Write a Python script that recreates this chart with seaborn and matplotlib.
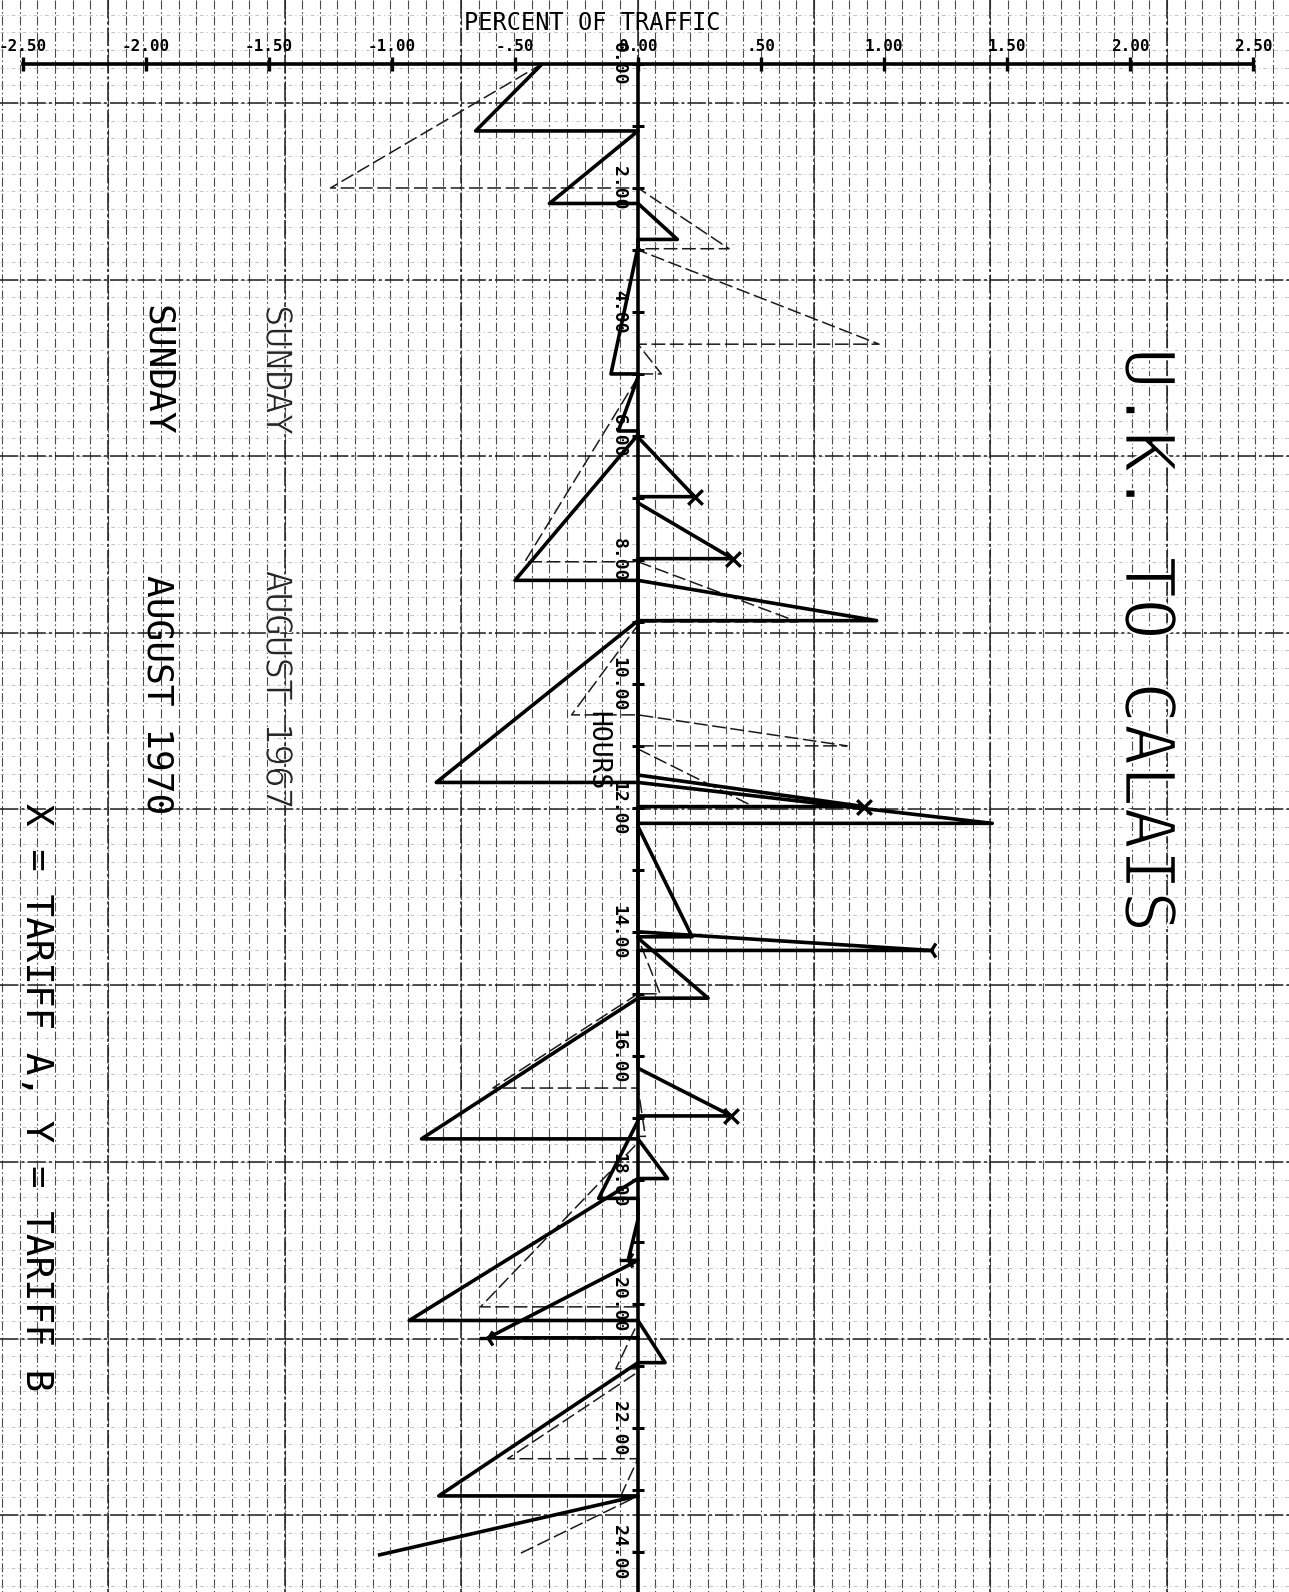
import numpy as np
import pandas as pd
import matplotlib
matplotlib.use("Agg")
import matplotlib.pyplot as plt
import matplotlib.patheffects as pe
import seaborn as sns

# ---------------- data ----------------
# 1970, main sailings (heavy solid trace): start hour on axis, end hour, percent
a_start = [-1.56, 1.08, 2.25, 2.95, 5.05, 5.98, 8.33, 8.98, 11.59, 12.30, 14.10,
           15.07, 17.34, 17.98, 20.27, 20.95, 23.10]
a_end = [1.08, 2.25, 2.83, 5.00, 5.92, 8.33, 8.98, 11.59, 12.25, 14.08, 15.07,
         17.34, 17.98, 20.27, 20.95, 23.10, 24.05]
a_val = [-0.66, -0.36, 0.16, -0.11, -0.08, -0.50, 0.97, -0.82, 1.44, 0.22, 0.285,
         -0.88, 0.12, -0.93, 0.11, -0.81, -1.05]

# 1970, extra sailings (solid, with tariff markers)
b_start = [6.02, 7.08, 11.47, 14.00, 16.20, 17.05, 18.64, 19.30]
b_end = [6.98, 7.98, 11.98, 14.30, 16.97, 18.30, 19.30, 20.55]
b_val = [0.23, 0.385, 0.92, 1.19, 0.38, -0.16, -0.04, -0.61]
b_tariff = ["A", "A", "A", "B", "A", "", "B", "B"]

# 1967 sailings (thin dashed trace)
c_start = [-0.91, 2.00, 3.00, 4.52, 5.05, 8.03, 9.05, 10.50, 11.05, 14.10, 15.00,
           16.52, 17.40, 20.30, 21.10, 22.50, 23.10]
c_end = [2.00, 2.98, 4.52, 5.00, 8.03, 9.00, 10.50, 11.00, 11.98, 15.00, 16.52,
         17.30, 20.05, 21.05, 22.50, 23.10, 24.05]
c_val = [-1.25, 0.37, 0.98, 0.095, -0.46, 0.65, -0.27, 0.85, 0.47, 0.09, -0.59,
         0.03, -0.64, -0.09, -0.53, -0.07, -0.49]

x_ticks = [-2.5, -2.0, -1.5, -1.0, -0.5, 0.0, 0.5, 1.0, 1.5, 2.0, 2.5]
x_labels = ["-2.50", "-2.00", "-1.50", "-1.00", "-.50", "0.00", ".50",
            "1.00", "1.50", "2.00", "2.50"]
hour_ticks = list(range(0, 25, 2))
hour_labels = [f"{h}.00" for h in hour_ticks]
hour_minor = list(range(0, 25))


def trace(start, end, val, final_return=True):
    xs, ys = [], []
    for s, e, v in zip(start, end, val):
        xs += [0.0, v, 0.0]
        ys += [s, e, e]
    if not final_return:
        xs, ys = xs[:-1], ys[:-1]
    return pd.DataFrame({"pct": xs, "hour": ys})


df_a = trace(a_start, a_end, a_val, final_return=False)
df_b = trace(b_start, b_end, b_val)
df_c = trace(c_start, c_end, c_val, final_return=False)
df_marks = pd.DataFrame({"pct": b_val, "hour": b_end, "tariff": b_tariff})

# ---------------- figure ----------------
W, H = 1289, 1592
fig = plt.figure(figsize=(W / 100, H / 100), dpi=100)
fig.patch.set_facecolor("white")

# plotter paper grid (background, pixel coordinates)
bg = fig.add_axes([0, 0, 1, 1], zorder=0)
bg.set_xlim(0, W)
bg.set_ylim(H, 0)
bg.axis("off")
step = 17.65
vx = np.arange(108 - 6 * step, W, step)
hy = np.arange(103 - 5 * step, H, step)
vmaj = [x for i, x in enumerate(vx) if (i - 6) % 10 == 0]
hmaj = [y for i, y in enumerate(hy) if (i - 5) % 10 == 0]
bg.vlines(vx, 0, H, colors="#4a4a4a", linewidth=0.8, linestyles=(0, (8, 2.5, 1.5, 2.5)))
bg.hlines(hy, 0, W, colors="#b4b4b4", linewidth=0.55, linestyles=(0, (5, 4, 1.5, 4)))
bg.vlines(vmaj, 0, H, colors="#1e1e1e", linewidth=1.1, linestyles=(0, (12, 2, 2, 2)))
bg.hlines(hmaj, 0, W, colors="#1e1e1e", linewidth=1.1, linestyles=(0, (12, 2, 2, 2)))

# main chart axes
left = 23 / W
right = 1253 / W
top = 1 - 64 / H
ax = fig.add_axes([left, 0.0, right - left, top], zorder=1)
ax.patch.set_alpha(0)
ax.set_xlim(-2.5, 2.5)
ax.set_ylim(24.65, 0)

sns.lineplot(data=df_c, x="pct", y="hour", sort=False, estimator=None, ax=ax,
             color="#1a1a1a", linewidth=1.1, linestyle=(0, (9, 3)))
sns.lineplot(data=df_a, x="pct", y="hour", sort=False, estimator=None, ax=ax,
             color="black", linewidth=2.6)
sns.lineplot(data=df_b, x="pct", y="hour", sort=False, estimator=None, ax=ax,
             color="black", linewidth=2.6)
sns.scatterplot(data=df_marks[df_marks["tariff"] == "A"], x="pct", y="hour",
                marker="x", s=110, linewidth=2.4, color="black", ax=ax, zorder=5)
sns.scatterplot(data=df_marks[df_marks["tariff"] == "B"], x="pct", y="hour",
                marker="3", s=160, linewidth=2.4, color="black", ax=ax, zorder=5)

# axes styling
for side in ["right", "bottom"]:
    ax.spines[side].set_visible(False)
ax.spines["top"].set_linewidth(2.6)
ax.spines["left"].set_position(("data", 0))
ax.spines["left"].set_linewidth(2.6)
ax.set_xlabel("")
ax.set_ylabel("")

mono = "DejaVu Sans Mono"
ax.xaxis.tick_top()
ax.set_xticks(x_ticks)
ax.set_xticklabels(x_labels, fontfamily=mono, fontweight="bold", fontsize=11.5)
ax.tick_params(axis="x", direction="inout", length=10, width=2.4, pad=2)

ax.set_yticks(hour_ticks)
ax.set_yticks(hour_minor, minor=True)
ax.set_yticklabels(hour_labels, fontfamily=mono, fontweight="bold", fontsize=13,
                   rotation=-90, va="center")
ax.tick_params(axis="y", which="both", direction="inout", length=9, width=2.2, pad=3)

# texts
thin = [pe.Stroke(linewidth=1.6, foreground="white")]
thin_small = [pe.Stroke(linewidth=0.7, foreground="white")]
ax.text(-0.187, -0.66, "PERCENT OF TRAFFIC", fontfamily=mono, fontsize=17,
        ha="center", va="center", clip_on=False)
ax.text(-0.167, 11.07, "HOURS", fontfamily=mono, fontsize=19, rotation=-90,
        ha="center", va="center")
ax.text(2.06, 9.3, "U.K. TO CALAIS", fontfamily=mono, fontsize=50, rotation=-90,
        ha="center", va="center", path_effects=thin)
ax.text(-1.955, 4.94, "SUNDAY", fontfamily=mono, fontsize=26, rotation=-90,
        ha="center", va="center")
ax.text(-1.955, 10.18, "AUGUST 1970", fontfamily=mono, fontsize=26, rotation=-90,
        ha="center", va="center")
ax.text(-1.47, 4.94, "SUNDAY", fontfamily=mono, fontsize=26, rotation=-90,
        ha="center", va="center", color="#262626", path_effects=thin_small)
ax.text(-1.47, 10.1, "AUGUST 1967", fontfamily=mono, fontsize=26, rotation=-90,
        ha="center", va="center", color="#262626", path_effects=thin_small)
ax.text(-2.447, 16.67, "X = TARIFF A, Y = TARIFF B", fontfamily=mono, fontsize=27,
        rotation=-90, ha="center", va="center", clip_on=False)

fig.savefig("out.png", dpi=100, facecolor="white")
